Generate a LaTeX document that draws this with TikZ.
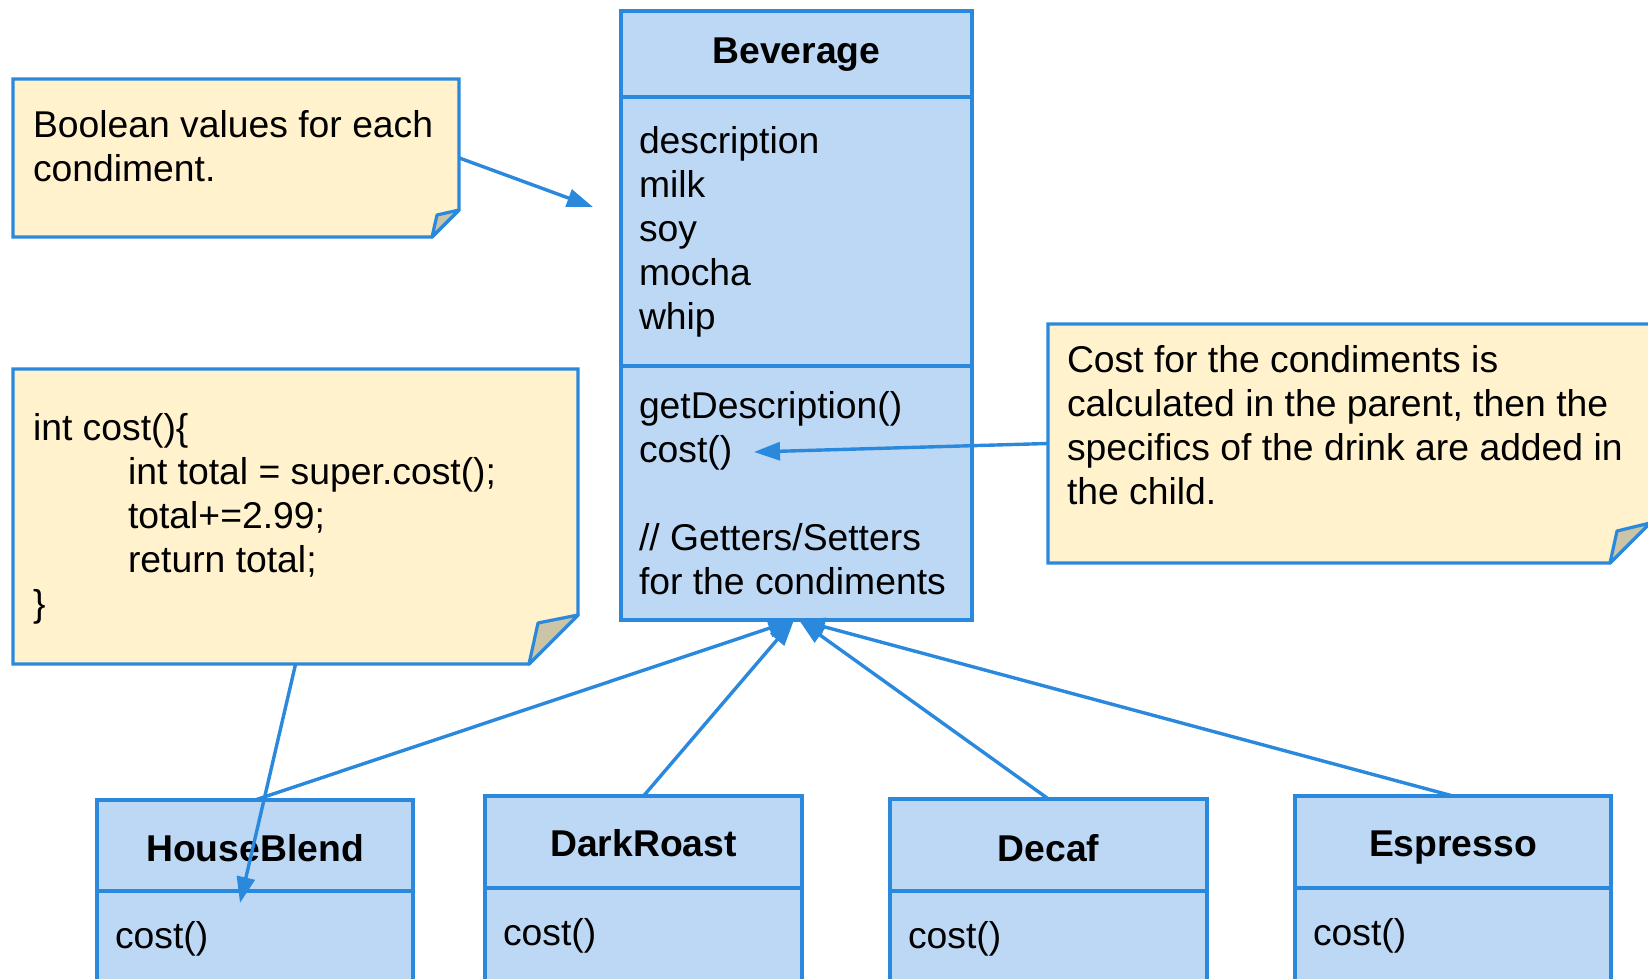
\documentclass[tikz,border=0pt]{standalone}
\usepackage{fontspec}
\setmainfont{Liberation Sans}
\usetikzlibrary{arrows.meta,fit}
\definecolor{umlline}{RGB}{42,137,220}
\definecolor{umlfill}{RGB}{188,216,245}
\definecolor{notefill}{RGB}{255,242,204}
\definecolor{foldfill}{RGB}{204,196,166}
\newcommand{\umlfont}{\fontsize{18.65pt}{22pt}\selectfont}
\tikzset{
  classbox/.style = {draw=umlline, fill=umlfill, line width=1.6pt,
                     inner sep=0pt, outer sep=0pt},
  title/.style    = {inner sep=0pt, outer sep=0pt, anchor=base, font=\umlfont\bfseries},
  notebox/.style  = {draw=umlline, fill=notefill, line width=1.6pt},
  fold/.style     = {draw=umlline, fill=foldfill, line width=1.6pt, line join=round},
  txt/.style      = {inner sep=0pt, outer sep=0pt, anchor=north west,
                     align=left, font=\umlfont},
  link/.style     = {draw=umlline, line width=1.7pt,
                     -{Triangle[length=13pt,width=9pt]}}
}

\begin{document}
\begin{tikzpicture}[x=0.5pt, y=-0.5pt]
	\useasboundingbox (0,0) rectangle (1648,979);

	% Beverage
	\node[classbox, fit={(621,11) (972,97)}] (bev) {};
	\node[classbox, fit={(621,97) (972,366)}] (bev-attr) {};
	\node[classbox, fit={(621,366) (972,620)}] (bev-ops) {};
	\node[title] (bev-title) at (796.5,64) {Beverage};
	\node[txt] (bev-attr-txt) at (639,126) {description\\milk\\soy\\mocha\\whip};
	\node[txt] (bev-ops-txt) at (639,391) {getDescription()\\cost()\\[22pt]// Getters/Setters\\for the condiments};

	% Subclasses
	\node[classbox, fit={(97,800) (413,891)}] (hb) {};
	\node[classbox, fit={(97,891) (413,990)}] (hb-ops) {};
	\node[classbox, fit={(485,796) (802,888)}] (dr) {};
	\node[classbox, fit={(485,888) (802,990)}] (dr-ops) {};
	\node[classbox, fit={(890,799) (1207,891)}] (dc) {};
	\node[classbox, fit={(890,891) (1207,990)}] (dc-ops) {};
	\node[classbox, fit={(1295,796) (1611,888)}] (es) {};
	\node[classbox, fit={(1295,888) (1611,990)}] (es-ops) {};
	\node[title] (hb-title) at (255,861.5) {HouseBlend};
	\node[title] (dr-title) at (643.5,856) {DarkRoast};
	\node[title] (dc-title) at (1048.5,861.5) {Decaf};
	\node[title] (es-title) at (1453,856) {Espresso};
	\node[txt, anchor=base west] (hb-cost) at (115,948) {cost()};
	\node[txt, anchor=base west] (dr-cost) at (503,945) {cost()};
	\node[txt, anchor=base west] (dc-cost) at (908,948) {cost()};
	\node[txt, anchor=base west] (es-cost) at (1313,945) {cost()};

	% Notes
	\draw[notebox] (13,79) -- (459,79) -- (459,210) -- (432,237) -- (13,237) -- cycle;
	\draw[fold] (459,210) -- (437,215) -- (432,237) -- cycle;
	\node[fit={(13,79) (459,237)}, inner sep=0pt] (note-bool) {};
	\node[txt] (note-bool-txt) at (33,110) {Boolean values for each\\condiment.};

	\draw[notebox] (13,369) -- (578,369) -- (578,615) -- (529,664) -- (13,664) -- cycle;
	\draw[fold] (578,615) -- (538,623) -- (529,664) -- cycle;
	\node[fit={(13,369) (578,664)}, inner sep=0pt] (note-code) {};
	\node[txt] (note-code-txt) at (33,413) {int cost()\{\\
		\hspace*{47.5pt}int total = super.cost();\\
		\hspace*{47.5pt}total+=2.99;\\
		\hspace*{47.5pt}return total;\\
		\}};

	\draw[notebox] (1048,324) -- (1650,324) -- (1650,523) -- (1610,563) -- (1048,563) -- cycle;
	\draw[fold] (1650,523) -- (1617,531) -- (1610,563) -- cycle;
	\node[fit={(1048,324) (1650,563)}, inner sep=0pt] (note-cost) {};
	\node[txt] (note-cost-txt) at (1067,345) {Cost for the condiments is\\calculated in the parent, then the\\specifics of the drink are added in\\the child.};

	% Arrows
	\coordinate (attr-ptr) at (593,207);
	\coordinate (cost-ptr) at (754,452);
	\coordinate (hb-ptr) at (240,903);
	\coordinate (gen-l) at (794,620);
	\coordinate (gen-r) at (799,620);

	\draw[link] (hb.north) -- (gen-l);
	\draw[link] (dr.north) -- (gen-l);
	\draw[link] (dc.north) -- (gen-r);
	\draw[link] (es.north) -- (gen-r);
	\draw[link] (note-bool.east) -- (attr-ptr);
	\draw[link] (note-cost.west) -- (cost-ptr);
	\draw[link] (note-code.south) -- (hb-ptr);

\end{tikzpicture}
\end{document}
